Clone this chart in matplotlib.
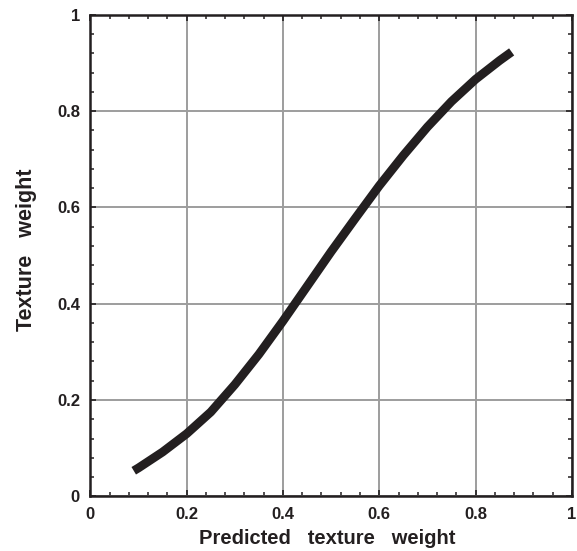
import numpy as np
import matplotlib
matplotlib.use("Agg")
import matplotlib.pyplot as plt
from matplotlib.ticker import MultipleLocator

# ====================================
# DATA
# ====================================

predicted_weight = [0.090, 0.100, 0.150, 0.200, 0.250, 0.300, 0.350,
                    0.400, 0.450, 0.500, 0.550, 0.600, 0.650, 0.700,
                    0.750, 0.800, 0.850, 0.875]
texture_weight = [0.053, 0.059, 0.092, 0.130, 0.175, 0.232, 0.295,
                  0.364, 0.436, 0.508, 0.577, 0.645, 0.708, 0.767,
                  0.820, 0.866, 0.905, 0.923]

tick_values = [0, 0.2, 0.4, 0.6, 0.8, 1]
tick_labels = ["0", "0.2", "0.4", "0.6", "0.8", "1"]

INK = "#231f20"

plt.rcParams["font.family"] = ["Liberation Sans", "DejaVu Sans"]
plt.rcParams["font.weight"] = "bold"

# ====================================
# FIGURE
# ====================================

fig = plt.figure(figsize=(5.77, 5.51), dpi=100)
ax = fig.add_axes([0.1567, 0.0993, 0.8343, 0.8738])

ax.plot(
    predicted_weight,
    texture_weight,
    color=INK,
    linewidth=6.3,
    solid_capstyle="butt",
    solid_joinstyle="round",
    zorder=3
)

ax.set_xlim(0, 1)
ax.set_ylim(0, 1)

ax.set_xticks(tick_values)
ax.set_xticklabels(tick_labels)
ax.set_yticks(tick_values)
ax.set_yticklabels(tick_labels)

ax.xaxis.set_minor_locator(MultipleLocator(0.04))
ax.yaxis.set_minor_locator(MultipleLocator(0.04))

ax.grid(True, which="major", color="#9d9d9d", linewidth=1.4, zorder=1)

ax.tick_params(
    which="major", direction="in", length=4.5, width=1.2,
    top=True, right=True, color=INK, labelcolor=INK,
    labelsize=12
)
ax.tick_params(axis="x", which="major", pad=8)
ax.tick_params(axis="y", which="major", pad=7.5)
ax.tick_params(
    which="minor", direction="in", length=3, width=1.1,
    top=True, right=True, color=INK
)

for spine in ax.spines.values():
    spine.set_linewidth(1.8)
    spine.set_color(INK)

# ====================================
# AXIS LABELS
# ====================================

fig.text(
    327 / 577, 1 - 544 / 551,
    "Predicted   texture   weight",
    fontsize=14.5, fontweight="bold", color=INK,
    ha="center", va="baseline"
)
fig.text(
    32 / 577, 1 - 250 / 551,
    "Texture   weight",
    fontsize=15.5, fontweight="bold", color=INK,
    ha="center", va="baseline", rotation=90,
    rotation_mode="anchor"
)

fig.savefig("out.png", dpi=100)
